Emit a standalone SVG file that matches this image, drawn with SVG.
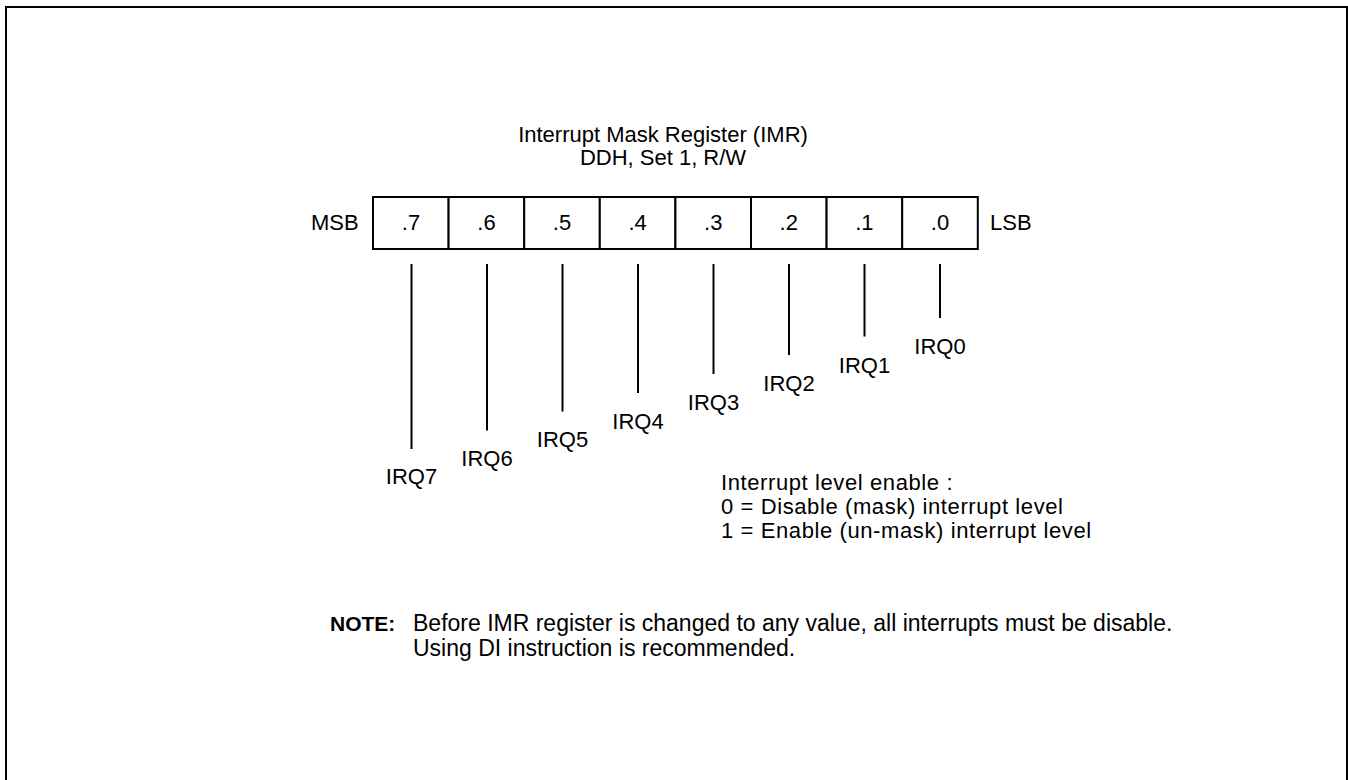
<svg xmlns="http://www.w3.org/2000/svg" width="1348" height="780" viewBox="0 0 1348 780">
<style>
text{font-family:"Liberation Sans",Arial,sans-serif;fill:#000}
.t{font-size:22px}
.c{font-size:22px;text-anchor:middle}
.l{font-size:22px;letter-spacing:0.6px}
.n{font-size:23px}
.cell{fill:#fff;stroke:#000;stroke-width:2}
.ld{stroke:#000;stroke-width:2;fill:none}
</style>
<rect width="1348" height="780" fill="#fff"/>
<path d="M6,790 V7 H1347 V790" fill="none" stroke="#000" stroke-width="2"/>
<g id="title">
<text class="c" x="663" y="142">Interrupt Mask Register (IMR)</text>
<text class="c" x="663" y="165">DDH, Set 1, R/W</text>
</g>
<g id="register">
<text class="t" x="311" y="230">MSB</text>
<rect class="cell" x="373" y="197" width="75.6" height="52"/>
<rect class="cell" x="448.6" y="197" width="75.6" height="52"/>
<rect class="cell" x="524.2" y="197" width="75.6" height="52"/>
<rect class="cell" x="599.8" y="197" width="75.6" height="52"/>
<rect class="cell" x="675.4" y="197" width="75.6" height="52"/>
<rect class="cell" x="751" y="197" width="75.6" height="52"/>
<rect class="cell" x="826.6" y="197" width="75.6" height="52"/>
<rect class="cell" x="902.2" y="197" width="75.6" height="52"/>
<text class="c" x="411" y="230">.7</text>
<text class="c" x="486.5" y="230">.6</text>
<text class="c" x="562" y="230">.5</text>
<text class="c" x="637.6" y="230">.4</text>
<text class="c" x="713.2" y="230">.3</text>
<text class="c" x="788.8" y="230">.2</text>
<text class="c" x="864.4" y="230">.1</text>
<text class="c" x="940" y="230">.0</text>
<text class="t" x="990" y="230">LSB</text>
</g>
<g id="connectors">
<line class="ld" x1="411.5" y1="264" x2="411.5" y2="449"/>
<line class="ld" x1="487" y1="264" x2="487" y2="430.5"/>
<line class="ld" x1="562.5" y1="264" x2="562.5" y2="411.5"/>
<line class="ld" x1="638" y1="264" x2="638" y2="393"/>
<line class="ld" x1="713.5" y1="264" x2="713.5" y2="374"/>
<line class="ld" x1="789" y1="264" x2="789" y2="355"/>
<line class="ld" x1="864.5" y1="264" x2="864.5" y2="336.5"/>
<line class="ld" x1="940" y1="264" x2="940" y2="318"/>
</g>
<g id="irq-labels">
<text class="c" x="411.5" y="484">IRQ7</text>
<text class="c" x="487" y="466">IRQ6</text>
<text class="c" x="562.5" y="447">IRQ5</text>
<text class="c" x="638" y="429">IRQ4</text>
<text class="c" x="713.5" y="410">IRQ3</text>
<text class="c" x="789" y="391">IRQ2</text>
<text class="c" x="864.5" y="373">IRQ1</text>
<text class="c" x="940" y="354">IRQ0</text>
</g>
<g id="legend">
<text class="l" x="721" y="490">Interrupt level enable :</text>
<text class="l" x="721" y="514">0 = Disable (mask) interrupt level</text>
<text class="l" x="721" y="538">1 = Enable (un-mask) interrupt level</text>
</g>
<g id="note">
<text x="330" y="631" font-size="21" font-weight="bold">NOTE:</text>
<text class="n" x="413" y="631">Before IMR register is changed to any value, all interrupts must be disable.</text>
<text class="n" x="413" y="656">Using DI instruction is recommended.</text>
</g>
</svg>
